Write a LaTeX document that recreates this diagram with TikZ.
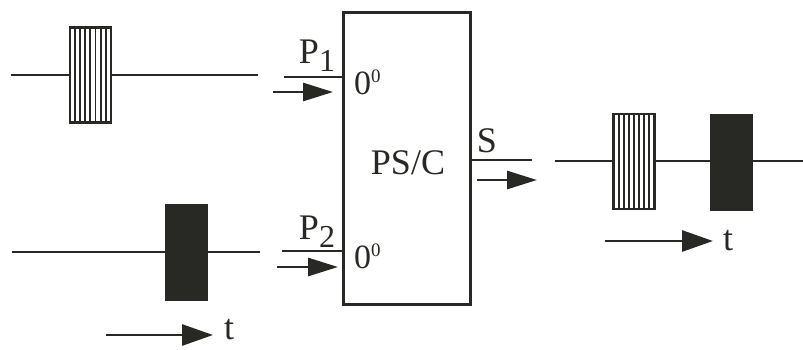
\documentclass[tikz,border=0pt]{standalone}
\usepackage{fontspec}
\setmainfont{Liberation Serif}
\usetikzlibrary{arrows.meta}
\definecolor{ink}{RGB}{40,40,36}
\tikzset{
  sig/.style={draw=ink, line width=2.8pt},
  hatchbox/.style={draw=ink, fill=white, line width=2.8pt, minimum width=41pt, minimum height=95pt, inner sep=0pt,
    path picture={\foreach \i in {1,...,7}{\draw[ink, line width=1.9pt] ([xshift=\i*5.1pt]path picture bounding box.south west) -- ([xshift=\i*5.1pt]path picture bounding box.north west);}}},
  darkbox/.style={draw=ink, fill=ink, line width=2.5pt, minimum width=41pt, minimum height=95pt, inner sep=0pt},
  mainbox/.style={draw=ink, line width=3pt, minimum width=127pt, minimum height=292pt, inner sep=0pt},
  flow/.style={draw=ink, line width=2.8pt, -{Triangle[length=30pt,width=18pt]}},
  tflow/.style={draw=ink, line width=2.8pt, -{Triangle[length=31pt,width=21pt]}},
  lbl/.style={font=\fontsize{36}{38}\selectfont, text=ink, inner sep=0pt}
}
\newcommand{\zsup}{\fontsize{34}{36}\selectfont 0\raisebox{0.36em}{\fontsize{19}{19}\selectfont 0}}
\newcommand{\psub}[1]{P\raisebox{-0.22em}{\fontsize{32}{32}\selectfont #1}}
\begin{document}
\begin{tikzpicture}[x=1pt,y=-1pt]
\useasboundingbox (0,0) rectangle (803,349);
% main block
\node[mainbox] (M) at (406.5,158) {};
\node[lbl] (ps) at (408,163) {PS/C};
% top-left signal
\node[hatchbox] (h1) at (90.5,75) {};
\coordinate (a1) at (11,75);
\coordinate (b1) at (258,75);
\draw[sig] (a1) -- (h1.west);
\draw[sig] (h1.east) -- (b1);
% bottom-left signal
\node[darkbox] (d1) at (186.5,252.5) {};
\coordinate (a2) at (12,252);
\coordinate (b2) at (260,252);
\draw[sig] (a2) -- (a2 -| d1.west);
\draw[sig] (b2 -| d1.east) -- (b2);
% left time arrow
\coordinate (t1s) at (106,335);
\coordinate (t1e) at (213,335);
\draw[tflow] (t1s) -- (t1e);
\node[lbl] (t1) at (229,330) {t};
% input P1
\coordinate (p1s) at (284,77);
\draw[sig] (p1s) -- (p1s -| M.west);
\coordinate (f1s) at (273,92);
\coordinate (f1e) at (333,92);
\draw[flow] (f1s) -- (f1e);
\node[lbl] (P1) at (317,56) {\psub{1}};
\node[lbl, anchor=west] (z1) at (354,82) {\zsup};
% input P2
\coordinate (p2s) at (282,251);
\draw[sig] (p2s) -- (p2s -| M.west);
\coordinate (f2s) at (277,267);
\coordinate (f2e) at (338,267);
\draw[flow] (f2s) -- (f2e);
\node[lbl] (P2) at (317,232) {\psub{2}};
\node[lbl, anchor=west] (z2) at (354,256) {\zsup};
% output S
\coordinate (s1) at (532,160);
\draw[sig] (s1 -| M.east) -- (s1);
\coordinate (f3s) at (477,180);
\coordinate (f3e) at (537,180);
\draw[flow] (f3s) -- (f3e);
\node[lbl] (S) at (487,141) {S};
% right output signal
\node[hatchbox] (h2) at (634,161.5) {};
\node[darkbox] (d2) at (731.5,162.5) {};
\coordinate (a3) at (555,161);
\coordinate (b3) at (803,161);
\draw[sig] (a3) -- (a3 -| h2.west);
\draw[sig] (a3 -| h2.east) -- (a3 -| d2.west);
\draw[sig] (a3 -| d2.east) -- (b3);
% right time arrow
\coordinate (t2s) at (605,241);
\coordinate (t2e) at (713,241);
\draw[tflow] (t2s) -- (t2e);
\node[lbl] (t2) at (728,241) {t};
\end{tikzpicture}
\end{document}
